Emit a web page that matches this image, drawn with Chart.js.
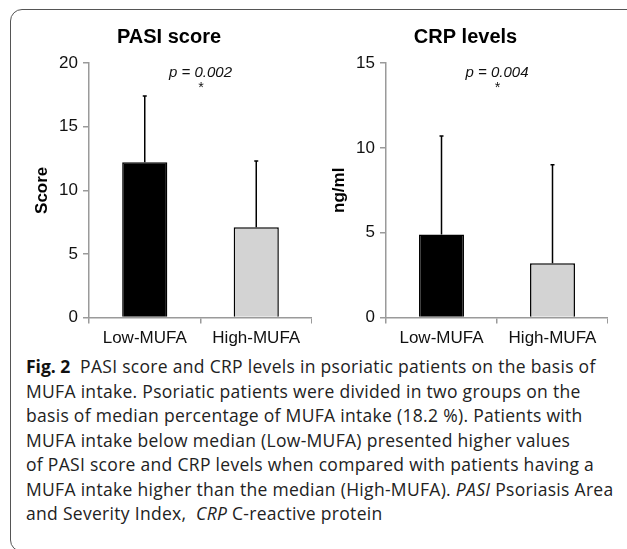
<!DOCTYPE html>
<html>
<head>
<meta charset="utf-8">
<script src="https://cdn.jsdelivr.net/npm/chart.js@4"></script>
<style>
  html, body { margin: 0; padding: 0; background: #fff; }
  body { width: 627px; height: 549px; position: relative; overflow: hidden; }
  .frame {
    position: absolute; left: 10px; top: 9px; width: 700px; height: 543px;
    border: 1.5px solid #555; border-radius: 12px; box-sizing: border-box;
  }
  .chart-box { position: absolute; top: 14px; width: 286px; height: 340px; }
  #leftBox { left: 26px; }
  #rightBox { left: 323px; width: 285px; }
  .caption {
    position: absolute; left: 26px; top: 354px; width: 600px;
    font-family: "Open Sans", sans-serif; font-size: 17.5px; line-height: 24.5px;
    color: #222; white-space: nowrap; letter-spacing: 0.3px;
  }
  .caption b { font-weight: 700; color: #111; letter-spacing: 0; }
</style>
</head>
<body>
<div class="frame"></div>
<div class="chart-box" id="leftBox"><canvas id="pasiChart"></canvas></div>
<div class="chart-box" id="rightBox"><canvas id="crpChart"></canvas></div>
<div class="caption">
  <b>Fig. 2</b>&nbsp; PASI score and CRP levels in psoriatic patients on the basis of<br>
  MUFA intake. Psoriatic patients were divided in two groups on the<br>
  basis of median percentage of MUFA intake (18.2 %). Patients with<br>
  MUFA intake below median (Low-MUFA) presented higher values<br>
  of PASI score and CRP levels when compared with patients having a<br>
  MUFA intake higher than the median (High-MUFA). <i>PASI</i> Psoriasis Area<br>
  and Severity Index,&nbsp; <i>CRP</i> C-reactive protein
</div>

<script>
// Data
const groups = ['Low-MUFA', 'High-MUFA'];
const pasiMeans = [12.2, 7.1];
const pasiErrors = [5.2, 5.2];
const crpMeans = [4.9, 3.2];
const crpErrors = [5.8, 5.8];
const pasiMax = 20;
const crpMax = 15;
const tickStep = 5;
const pValues = ['p = 0.002', 'p = 0.004'];

const barColors = ['#000000', '#d3d3d3'];
const axisGray = '#9a9a9a';

// Draws the SD bars (upper only) and the p-value note
const errorBarPlugin = {
    id: 'errorBars',
    afterDatasetsDraw(chart, args, opts) {
        const ctx = chart.ctx;
        const yScale = chart.scales.y;
        const meta = chart.getDatasetMeta(0);
        ctx.save();
        ctx.strokeStyle = '#000';
        ctx.lineWidth = 1.5;
        meta.data.forEach((bar, i) => {
            const top = yScale.getPixelForValue(opts.means[i] + opts.errors[i]);
            ctx.beginPath();
            ctx.moveTo(bar.x, bar.y);
            ctx.lineTo(bar.x, top);
            ctx.moveTo(bar.x - 2, top);
            ctx.lineTo(bar.x + 2, top);
            ctx.stroke();
        });

        const area = chart.chartArea;
        const cx = (area.left + area.right) / 2;
        ctx.fillStyle = '#111';
        ctx.textAlign = 'center';
        ctx.textBaseline = 'middle';
        ctx.font = 'italic 15px "Liberation Sans", Arial, sans-serif';
        ctx.fillText(opts.pText, cx, area.top + 10);
        ctx.font = 'italic 14px "Liberation Sans", Arial, sans-serif';
        ctx.fillText('*', cx, area.top + 25);
        ctx.restore();
    }
};

function renderChart(canvasId, title, yTitle, means, errors, maxY, pText) {
    const ctx = document.getElementById(canvasId).getContext('2d');
    new Chart(ctx, {
        type: 'bar',
        data: {
            labels: groups,
            datasets: [{
                data: means,
                backgroundColor: barColors,
                borderColor: '#000',
                borderWidth: 1.5,
                barPercentage: 0.405,
                categoryPercentage: 1
            }]
        },
        options: {
            responsive: true,
            maintainAspectRatio: false,
            animation: false,
            layout: { padding: { top: 0, right: 0, bottom: 0, left: 0 } },
            plugins: {
                legend: { display: false },
                tooltip: { enabled: false },
                title: {
                    display: true,
                    text: title,
                    color: '#000',
                    font: { family: '"Liberation Sans", Arial, sans-serif', size: 20, weight: 'bold' },
                    padding: { top: 11, bottom: 14 }
                },
                errorBars: { means: means, errors: errors, pText: pText }
            },
            scales: {
                x: {
                    grid: { drawOnChartArea: false, tickLength: 6, color: axisGray, lineWidth: 1.5 },
                    border: { color: axisGray, width: 1.5 },
                    ticks: {
                        color: '#111',
                        padding: 5,
                        font: { family: '"Liberation Sans", Arial, sans-serif', size: 17 }
                    }
                },
                y: {
                    min: 0,
                    max: maxY,
                    afterFit: scale => { scale.width = 63; },
                    grid: { drawOnChartArea: false, tickLength: 6, color: axisGray, lineWidth: 1.5 },
                    border: { color: axisGray, width: 1.5 },
                    ticks: {
                        stepSize: tickStep,
                        color: '#111',
                        padding: 5,
                        font: { family: '"Liberation Sans", Arial, sans-serif', size: 17 }
                    },
                    title: {
                        display: true,
                        text: yTitle,
                        color: '#000',
                        padding: { top: 6, bottom: 0 },
                        font: { family: '"Liberation Sans", Arial, sans-serif', size: 17, weight: 'bold' }
                    }
                }
            }
        },
        plugins: [errorBarPlugin]
    });
}

document.addEventListener('DOMContentLoaded', () => {
    renderChart('pasiChart', 'PASI score', 'Score', pasiMeans, pasiErrors, pasiMax, pValues[0]);
    renderChart('crpChart', 'CRP levels', 'ng/ml', crpMeans, crpErrors, crpMax, pValues[1]);
});
</script>
</body>
</html>
